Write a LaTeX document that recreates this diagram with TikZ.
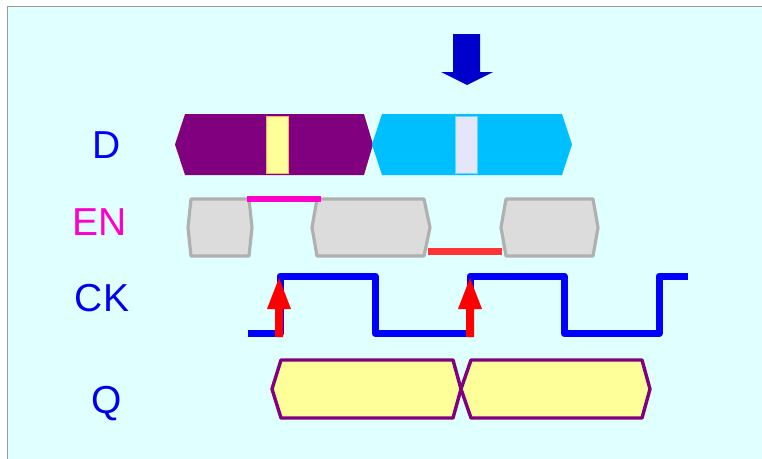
\documentclass[tikz,border=0pt]{standalone}
\usepackage{fontspec}
\setmainfont{Liberation Sans}
\definecolor{bgc}{HTML}{E0FFFF}
\definecolor{dpurple}{HTML}{800080}
\definecolor{dsky}{HTML}{00BFFF}
\definecolor{lyel}{HTML}{FFFF99}
\definecolor{lav}{HTML}{E6E6FA}
\definecolor{gfill}{HTML}{DCDCDC}
\definecolor{gline}{HTML}{B0B0B0}
\definecolor{mag}{HTML}{FF00CC}
\definecolor{redl}{HTML}{FF3333}
\definecolor{ckblue}{HTML}{0000EE}
\definecolor{darrow}{HTML}{0000CC}
\tikzset{
  lbl/.style={font=\fontsize{39}{39}\selectfont, inner sep=0pt, anchor=center},
  enbox/.style={fill=gfill, draw=gline, line width=3.2pt, line join=round},
  qbox/.style={fill=lyel, draw=dpurple, line width=3.4pt, line join=round},
}
\begin{document}
\begin{tikzpicture}[x=1pt,y=-1pt]
\useasboundingbox (0,0) rectangle (762,458);
\fill[white] (0,0) rectangle (762,458);
\filldraw[fill=bgc, draw=gray!80, line width=1pt] (7.5,6.5) rectangle (775,470);

% labels
\node[lbl, text=blue] (lD) at (107,145) {D};
\node[lbl, text=mag] (lEN) at (100,222) {EN};
\node[lbl, text=ckblue] (lCK) at (102,298) {CK};
\node[lbl, text=ckblue, anchor=base] (lQ) at (107,413) {Q};

% blue down arrow
\fill[darrow] (453,34) -- (480,34) -- (480,72) -- (493,72) -- (467,85) -- (441,72) -- (453,72) -- cycle;

% D row
\fill[dpurple] (175,144.5) -- (185,114) -- (364,114) -- (373,144.5) -- (364,175) -- (185,175) -- cycle;
\fill[dsky] (372,144.5) -- (382,114) -- (562,114) -- (572,144.5) -- (562,175) -- (382,175) -- cycle;
\filldraw[fill=lyel, draw=orange!60, line width=0.6pt] (266,116) rectangle (288,173);
\filldraw[fill=lav, draw=dsky!60, line width=0.6pt] (455,116) rectangle (477,173);

% EN row
\draw[enbox] (188,227.5) -- (191,199) -- (249,199) -- (252,227.5) -- (249,256) -- (191,256) -- cycle;
\draw[enbox] (312,227.5) -- (317,199) -- (424,199) -- (430,227.5) -- (424,256) -- (317,256) -- cycle;
\draw[enbox] (501,227.5) -- (506,199) -- (593,199) -- (598,227.5) -- (593,256) -- (506,256) -- cycle;
\draw[mag, line width=6pt] (247,198.5) -- (321,198.5);
\draw[redl, line width=7pt] (428,251.5) -- (502,251.5);

% CK row
\draw[blue, line width=7pt, line join=round]
  (248,333.5) -- (280,333.5) -- (280,276) -- (375,276) -- (375,333.5) -- (470,333.5)
  -- (470,276) -- (564,276) -- (564,333.5) -- (659,333.5) -- (659,276) -- (688,276);
\fill[red] (275,337) -- (283,337) -- (283,309) -- (291,309) -- (279,278) -- (267,309) -- (275,309) -- cycle;
\fill[red] (466,337) -- (474,337) -- (474,309) -- (482,309) -- (470,278) -- (458,309) -- (466,309) -- cycle;

% Q row
\draw[qbox] (272,389) -- (281,360) -- (453,360) -- (461,389) -- (453,418) -- (281,418) -- cycle;
\draw[qbox] (461,389) -- (471,360) -- (642,360) -- (650,389) -- (642,418) -- (471,418) -- cycle;
\end{tikzpicture}
\end{document}
